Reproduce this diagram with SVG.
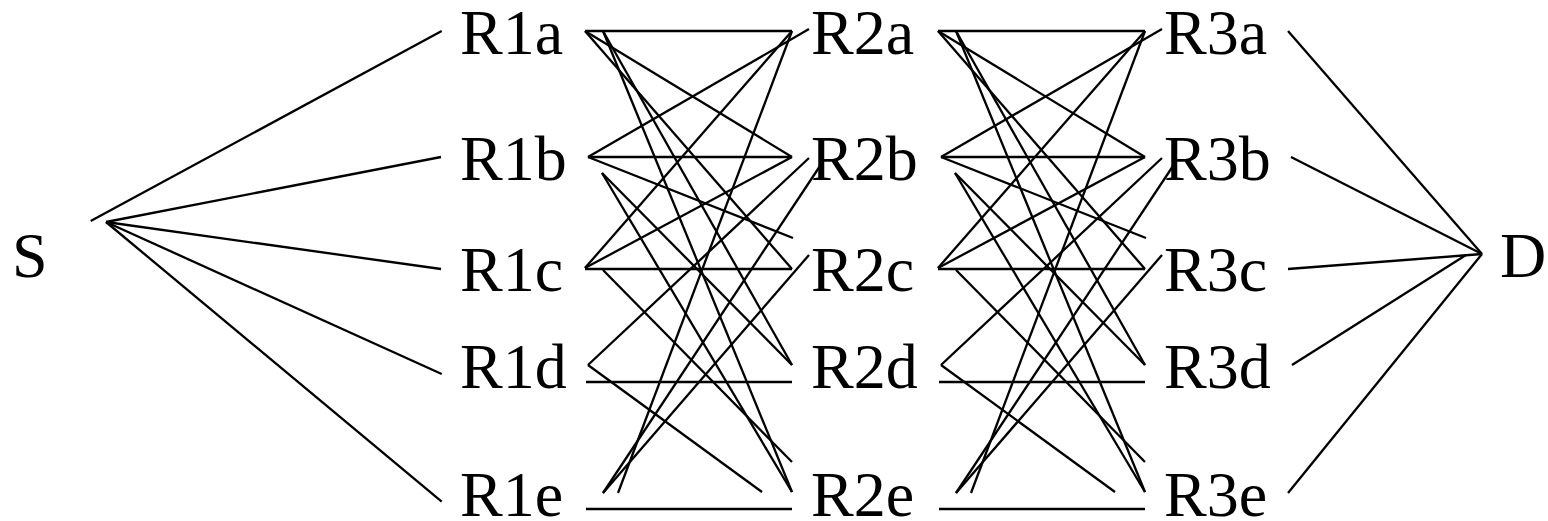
<svg xmlns="http://www.w3.org/2000/svg" width="1548" height="521" viewBox="0 0 1548 521">
<style>
.lbl{font-family:"Liberation Serif","Times New Roman",serif;font-size:64px;fill:#000}
.e line{stroke:#000;stroke-width:2.3;stroke-linecap:butt}
</style>
<rect width="1548" height="521" fill="#fff"/>
<g id="connectors" class="e">
<line x1="90.7" y1="221" x2="441.7" y2="31"/>
<line x1="106" y1="222" x2="441" y2="157"/>
<line x1="106" y1="222" x2="441" y2="269"/>
<line x1="106" y1="222" x2="441.7" y2="374"/>
<line x1="106" y1="222" x2="441.7" y2="501.7"/>
<line x1="585" y1="31" x2="792" y2="31"/>
<line x1="585" y1="31" x2="792" y2="157"/>
<line x1="585" y1="31" x2="792" y2="269"/>
<line x1="603" y1="31" x2="792" y2="365"/>
<line x1="603" y1="31" x2="792" y2="492"/>
<line x1="588" y1="157" x2="809" y2="29"/>
<line x1="588" y1="157" x2="792" y2="157"/>
<line x1="588" y1="157" x2="793" y2="238"/>
<line x1="602" y1="173" x2="792" y2="365"/>
<line x1="602" y1="173" x2="792" y2="492"/>
<line x1="585" y1="268" x2="792" y2="31"/>
<line x1="585" y1="268" x2="792" y2="157"/>
<line x1="585" y1="269" x2="792" y2="269"/>
<line x1="603" y1="270" x2="792" y2="462"/>
<line x1="588" y1="365" x2="809" y2="158"/>
<line x1="586" y1="382" x2="792" y2="382"/>
<line x1="588" y1="365" x2="762" y2="492"/>
<line x1="586" y1="509" x2="792" y2="509"/>
<line x1="618" y1="493" x2="792" y2="31"/>
<line x1="603" y1="493" x2="820" y2="166"/>
<line x1="603" y1="493" x2="809" y2="255"/>
<line x1="938" y1="31" x2="1145" y2="31"/>
<line x1="938" y1="31" x2="1145" y2="157"/>
<line x1="938" y1="31" x2="1145" y2="269"/>
<line x1="956" y1="31" x2="1145" y2="365"/>
<line x1="956" y1="31" x2="1145" y2="492"/>
<line x1="941" y1="157" x2="1162" y2="29"/>
<line x1="941" y1="157" x2="1145" y2="157"/>
<line x1="941" y1="157" x2="1146" y2="238"/>
<line x1="955" y1="173" x2="1145" y2="365"/>
<line x1="955" y1="173" x2="1145" y2="492"/>
<line x1="938" y1="268" x2="1145" y2="31"/>
<line x1="938" y1="268" x2="1145" y2="157"/>
<line x1="938" y1="269" x2="1145" y2="269"/>
<line x1="956" y1="270" x2="1145" y2="462"/>
<line x1="941" y1="365" x2="1162" y2="158"/>
<line x1="939" y1="382" x2="1145" y2="382"/>
<line x1="941" y1="365" x2="1115" y2="492"/>
<line x1="939" y1="509" x2="1145" y2="509"/>
<line x1="971" y1="493" x2="1145" y2="31"/>
<line x1="956" y1="493" x2="1173" y2="166"/>
<line x1="956" y1="493" x2="1162" y2="255"/>
<line x1="1288" y1="31" x2="1482" y2="254"/>
<line x1="1291" y1="157" x2="1482" y2="254"/>
<line x1="1288" y1="269" x2="1482" y2="254"/>
<line x1="1292" y1="365" x2="1466" y2="255"/>
<line x1="1288" y1="493" x2="1482" y2="254"/>
</g>
<g id="S"><text class="lbl" x="12" y="277">S</text></g>
<g id="R1a"><text class="lbl" x="460" y="54">R1a</text></g>
<g id="R1b"><text class="lbl" x="460" y="180">R1b</text></g>
<g id="R1c"><text class="lbl" x="460" y="291">R1c</text></g>
<g id="R1d"><text class="lbl" x="460" y="388">R1d</text></g>
<g id="R1e"><text class="lbl" x="460" y="516">R1e</text></g>
<g id="R2a"><text class="lbl" x="811" y="54">R2a</text></g>
<g id="R2b"><text class="lbl" x="811" y="180">R2b</text></g>
<g id="R2c"><text class="lbl" x="811" y="291">R2c</text></g>
<g id="R2d"><text class="lbl" x="811" y="388">R2d</text></g>
<g id="R2e"><text class="lbl" x="811" y="516">R2e</text></g>
<g id="R3a"><text class="lbl" x="1164" y="54">R3a</text></g>
<g id="R3b"><text class="lbl" x="1164" y="180">R3b</text></g>
<g id="R3c"><text class="lbl" x="1164" y="291">R3c</text></g>
<g id="R3d"><text class="lbl" x="1164" y="388">R3d</text></g>
<g id="R3e"><text class="lbl" x="1164" y="516">R3e</text></g>
<g id="D"><text class="lbl" x="1500" y="277">D</text></g>
</svg>
